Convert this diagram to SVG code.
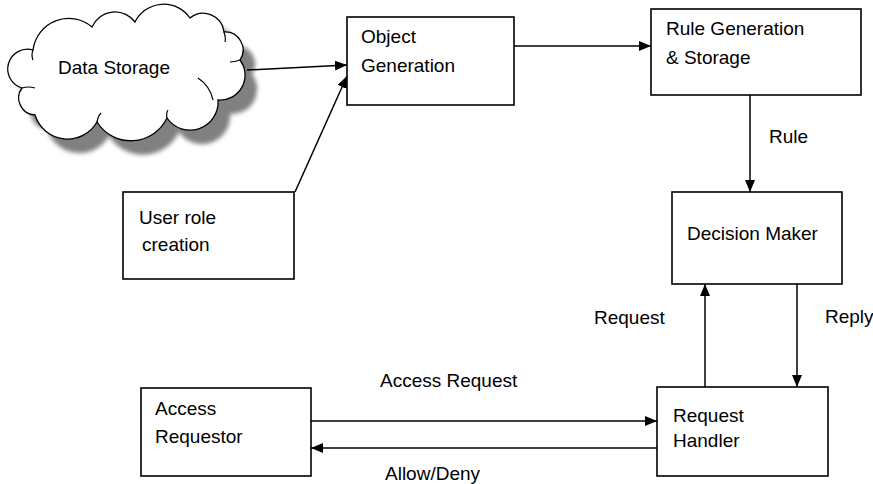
<svg xmlns="http://www.w3.org/2000/svg" width="873" height="484" viewBox="0 0 873 484">
<defs>
<style>
.box{fill:#fff;stroke:#000;stroke-width:1.6}
.t{font-family:"Liberation Sans",Arial,sans-serif;font-size:19px;fill:#000}
.c{fill:none;stroke:#000;stroke-width:1.5}
.cl{fill:#fff;stroke:#000;stroke-width:1.3}
</style>
<marker id="ah" viewBox="0 0 12 10" refX="12" refY="5" markerWidth="12" markerHeight="10" markerUnits="userSpaceOnUse" orient="auto">
<path d="M0,0 L12,5 L0,10 Z" fill="#000"/>
</marker>
<filter id="blur" x="-10%" y="-10%" width="120%" height="120%">
<feGaussianBlur stdDeviation="2"/>
</filter>
<path id="cloudShape" d="M22,88 A17,17 0 0 1 33,50 A36,36 0 0 1 92,27 A25,25 0 0 1 135,22 A32,32 0 0 1 190,18 A21,21 0 0 1 224,32 A18,18 0 0 1 240,60 A25,25 0 0 1 218,100 A28,28 0 0 1 167,118 A40,40 0 0 1 97,122 A34,34 0 0 1 35,115 A17,17 0 0 1 22,88 Z"/>
</defs>
<rect width="873" height="484" fill="#fff"/>

<g id="data-storage">
<use href="#cloudShape" transform="translate(12,14)" fill="#808080" filter="url(#blur)"/>
<use href="#cloudShape" class="cl"/>
<path d="M33,50 Q31,55 33,60 M22,88 Q28,86 35,88 M224,32 Q226,38 225,42 M240,60 Q235,62 230,62 M198,78 Q210,86 213,100 M167,118 Q166,113 168,110 M97,122 Q98,116 101,113" fill="none" stroke="#000" stroke-width="1.2"/>
<text class="t" x="58" y="74">Data Storage</text>
</g>

<g id="object-generation">
<rect class="box" x="347" y="17" width="167" height="88"/>
<text class="t" x="361" y="43">Object</text>
<text class="t" x="361" y="72">Generation</text>
</g>

<g id="rule-generation">
<rect class="box" x="651" y="9" width="210" height="86"/>
<text class="t" x="666" y="35">Rule Generation</text>
<text class="t" x="666" y="64">&amp; Storage</text>
</g>

<g id="user-role">
<rect class="box" x="123" y="192" width="171" height="87"/>
<text class="t" x="139" y="224">User role</text>
<text class="t" x="142" y="251">creation</text>
</g>

<g id="decision-maker">
<rect class="box" x="672" y="192" width="170" height="92"/>
<text class="t" x="687" y="240">Decision Maker</text>
</g>

<g id="access-requestor">
<rect class="box" x="141" y="388" width="170" height="88"/>
<text class="t" x="155" y="415">Access</text>
<text class="t" x="155" y="443">Requestor</text>
</g>

<g id="request-handler">
<rect class="box" x="657" y="387" width="171" height="89"/>
<text class="t" x="673" y="422">Request</text>
<text class="t" x="673" y="447">Handler</text>
</g>

<g id="connectors">
<line class="c" x1="247" y1="70" x2="347" y2="65" marker-end="url(#ah)"/>
<line class="c" x1="295" y1="192" x2="347" y2="76" marker-end="url(#ah)"/>
<line class="c" x1="514" y1="46" x2="651" y2="46" marker-end="url(#ah)"/>
<line class="c" x1="750" y1="95" x2="750" y2="192" marker-end="url(#ah)"/>
<line class="c" x1="705" y1="387" x2="705" y2="284" marker-end="url(#ah)"/>
<line class="c" x1="797" y1="284" x2="797" y2="387" marker-end="url(#ah)"/>
<line class="c" x1="311" y1="421" x2="657" y2="421" marker-end="url(#ah)"/>
<line class="c" x1="657" y1="448" x2="311" y2="448" marker-end="url(#ah)"/>
<text class="t" x="769" y="143">Rule</text>
<text class="t" x="594" y="324">Request</text>
<text class="t" x="825" y="323">Reply</text>
<text class="t" x="380" y="387">Access Request</text>
<text class="t" x="385" y="480">Allow/Deny</text>
</g>
</svg>
